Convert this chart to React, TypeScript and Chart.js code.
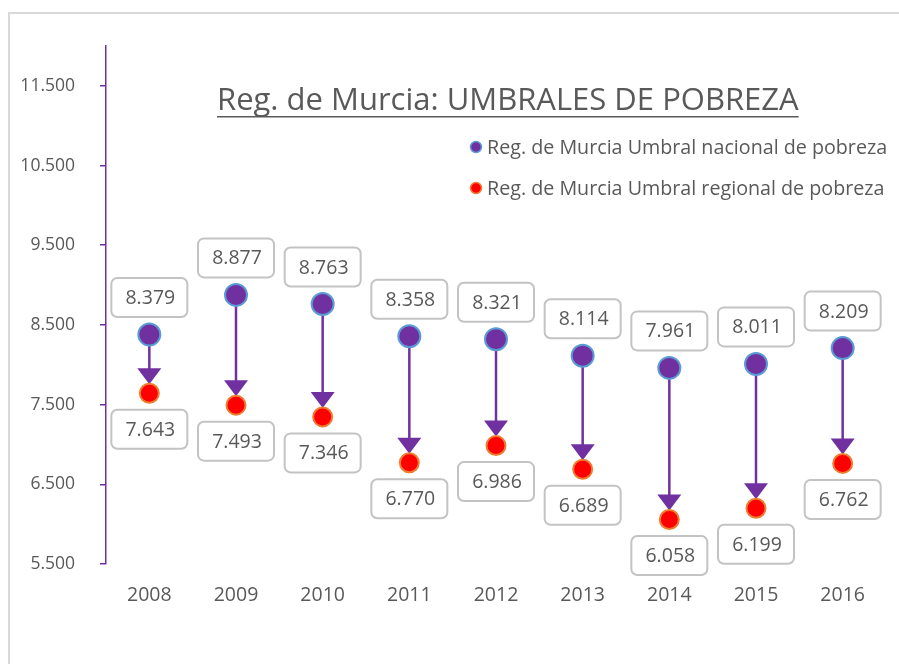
import { useEffect, useRef } from "react";
import { Chart, registerables } from "chart.js";

Chart.register(...registerables);

const years = ["2008", "2009", "2010", "2011", "2012", "2013", "2014", "2015", "2016"];
const nacional = [8379, 8877, 8763, 8358, 8321, 8114, 7961, 8011, 8209];
const regional = [7643, 7493, 7346, 6770, 6986, 6689, 6058, 6199, 6762];
const yTicks = [5500, 6500, 7500, 8500, 9500, 10500, 11500];
const seriesNames = [
  "Reg. de Murcia Umbral nacional de pobreza",
  "Reg. de Murcia Umbral regional de pobreza",
];
const titleText = "Reg. de Murcia: UMBRALES DE POBREZA";

const FONT = "'Open Sans', sans-serif";
const TEXT = "#595959";
const PURPLE = "#7030a0";
const BLUE = "#5b9bd5";
const RED = "#ff0000";
const ORANGE = "#ed7d31";

const fmt = (v: number) => {
  const s = Math.round(v).toString();
  return s.replace(/\B(?=(\d{3})+(?!\d))/g, ".");
};

function roundRect(ctx: CanvasRenderingContext2D, x: number, y: number, w: number, h: number, r: number) {
  ctx.beginPath();
  ctx.moveTo(x + r, y);
  ctx.lineTo(x + w - r, y);
  ctx.arcTo(x + w, y, x + w, y + r, r);
  ctx.lineTo(x + w, y + h - r);
  ctx.arcTo(x + w, y + h, x + w - r, y + h, r);
  ctx.lineTo(x + r, y + h);
  ctx.arcTo(x, y + h, x, y + h - r, r);
  ctx.lineTo(x, y + r);
  ctx.arcTo(x, y, x + r, y, r);
  ctx.closePath();
}

const arrowPlugin = {
  id: "arrows",
  beforeDatasetsDraw(chart: any) {
    const ctx = chart.ctx as CanvasRenderingContext2D;
    const m0 = chart.getDatasetMeta(0).data;
    const m1 = chart.getDatasetMeta(1).data;
    ctx.save();
    ctx.strokeStyle = PURPLE;
    ctx.fillStyle = PURPLE;
    ctx.lineWidth = 2.5;
    for (let i = 0; i < m0.length; i++) {
      const x = m0[i].x;
      const y0 = m0[i].y;
      const tip = m1[i].y - 9;
      const headH = 16;
      const headW = 24;
      ctx.beginPath();
      ctx.moveTo(x, y0);
      ctx.lineTo(x, tip - headH + 1);
      ctx.stroke();
      ctx.beginPath();
      ctx.moveTo(x - headW / 2, tip - headH);
      ctx.lineTo(x + headW / 2, tip - headH);
      ctx.lineTo(x, tip);
      ctx.closePath();
      ctx.fill();
    }
    ctx.restore();
  },
};

const labelPlugin = {
  id: "boxLabels",
  afterDatasetsDraw(chart: any) {
    const ctx = chart.ctx as CanvasRenderingContext2D;
    const w = 76;
    const h = 39;
    ctx.save();
    ctx.font = `19.5px ${FONT}`;
    ctx.textAlign = "center";
    ctx.textBaseline = "middle";
    [0, 1].forEach((di) => {
      const meta = chart.getDatasetMeta(di).data;
      const vals = chart.data.datasets[di].data as number[];
      meta.forEach((pt: any, i: number) => {
        const cy = di === 0 ? pt.y - 37 : pt.y + 36;
        roundRect(ctx, pt.x - w / 2, cy - h / 2, w, h, 6);
        ctx.fillStyle = "#ffffff";
        ctx.fill();
        ctx.lineWidth = 2;
        ctx.strokeStyle = "#c3c3c3";
        ctx.stroke();
        ctx.fillStyle = TEXT;
        ctx.fillText(fmt(vals[i]), pt.x + 1, cy + 1);
      });
    });
    ctx.restore();
  },
};

const decoPlugin = {
  id: "deco",
  afterDraw(chart: any) {
    const ctx = chart.ctx as CanvasRenderingContext2D;
    ctx.save();
    // title
    ctx.font = `31px ${FONT}`;
    ctx.fillStyle = TEXT;
    ctx.textAlign = "left";
    ctx.textBaseline = "alphabetic";
    const tx = 217;
    const ty = 110;
    ctx.fillText(titleText, tx, ty);
    const tw = ctx.measureText(titleText).width;
    ctx.fillRect(tx, ty + 6, tw, 1.5);
    // legend
    const items = [
      { name: seriesNames[0], fill: PURPLE, stroke: BLUE, y: 147 },
      { name: seriesNames[1], fill: RED, stroke: ORANGE, y: 188 },
    ];
    items.forEach((it) => {
      ctx.beginPath();
      ctx.arc(476, it.y, 5.5, 0, Math.PI * 2);
      ctx.fillStyle = it.fill;
      ctx.fill();
      ctx.lineWidth = 1.5;
      ctx.strokeStyle = it.stroke;
      ctx.stroke();
      ctx.font = `19.7px ${FONT}`;
      ctx.fillStyle = TEXT;
      ctx.textBaseline = "middle";
      ctx.fillText(it.name, 487, it.y + 1);
    });
    ctx.restore();
  },
};

export default function App() {
  const ref = useRef<HTMLCanvasElement | null>(null);
  useEffect(() => {
    if (!ref.current) return;
    const chart = new Chart(ref.current, {
      type: "line",
      data: {
        labels: years,
        datasets: [
          {
            label: seriesNames[0],
            data: nacional,
            showLine: false,
            pointRadius: 11,
            pointBorderWidth: 2,
            pointBackgroundColor: PURPLE,
            pointBorderColor: BLUE,
          },
          {
            label: seriesNames[1],
            data: regional,
            showLine: false,
            pointRadius: 9.5,
            pointBorderWidth: 2,
            pointBackgroundColor: RED,
            pointBorderColor: ORANGE,
          },
        ],
      },
      options: {
        responsive: false,
        animation: false,
        devicePixelRatio: 1,
        layout: { padding: { left: 0, right: 11, top: 46, bottom: 0 } },
        plugins: {
          legend: { display: false },
          title: { display: false },
          tooltip: { enabled: false },
        },
        scales: {
          x: {
            offset: true,
            grid: { display: false, drawTicks: false },
            border: { display: false },
            ticks: { color: TEXT, font: { family: FONT, size: 19.5 }, padding: 20 },
            afterFit: (s: any) => {
              s.height = 100;
            },
          },
          y: {
            min: 5500,
            max: 12000,
            grid: {
              display: true,
              drawOnChartArea: false,
              drawTicks: true,
              tickLength: 6,
              color: PURPLE,
              lineWidth: 1.5,
            },
            border: { display: true, color: PURPLE, width: 1.5 },
            ticks: {
              color: TEXT,
              font: { family: FONT, size: 17.5 },
              padding: 25,
              callback: (v: any) => fmt(Number(v)),
            },
            afterBuildTicks: (s: any) => {
              s.ticks = yTicks.map((v) => ({ value: v }));
            },
            afterFit: (s: any) => {
              s.width = 106;
            },
          },
        },
      },
      plugins: [arrowPlugin, labelPlugin, decoPlugin],
    });
    return () => chart.destroy();
  }, []);

  return (
    <div style={{ position: "fixed", left: 0, top: 0, width: 899, height: 664, background: "#ffffff" }}>
      <div
        style={{
          position: "absolute",
          left: 8,
          top: 12,
          width: 891,
          height: 652,
          borderTop: "2px solid #d9d9d9",
          borderLeft: "2px solid #d9d9d9",
          boxSizing: "border-box",
        }}
      />
      <canvas ref={ref} width={899} height={664} style={{ position: "absolute", left: 0, top: 0 }} />
    </div>
  );
}
